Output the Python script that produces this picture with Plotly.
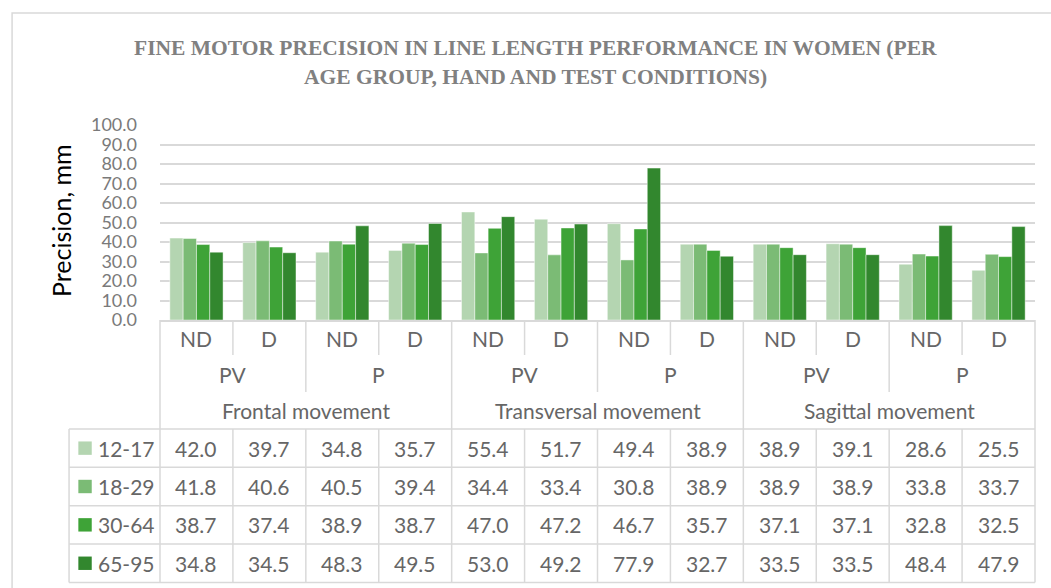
import plotly.graph_objects as go

# ---------------- data ----------------
movements = ["Frontal movement", "Transversal movement", "Sagittal movement"]
conditions = ["PV", "P"]
hands = ["ND", "D"]
age_groups = ["12-17", "18-29", "30-64", "65-95"]
v_12_17 = [42.0, 39.7, 34.8, 35.7, 55.4, 51.7, 49.4, 38.9, 38.9, 39.1, 28.6, 25.5]
v_18_29 = [41.8, 40.6, 40.5, 39.4, 34.4, 33.4, 30.8, 38.9, 38.9, 38.9, 33.8, 33.7]
v_30_64 = [38.7, 37.4, 38.9, 38.7, 47.0, 47.2, 46.7, 35.7, 37.1, 37.1, 32.8, 32.5]
v_65_95 = [34.8, 34.5, 48.3, 49.5, 53.0, 49.2, 77.9, 32.7, 33.5, 33.5, 48.4, 47.9]
series = [v_12_17, v_18_29, v_30_64, v_65_95]
colors = ["#b4d5b1", "#7bbb75", "#3ea337", "#32872e"]
y_ticks = [0, 10, 20, 30, 40, 50, 60, 70, 80, 90, 100]

title_text = ("FINE MOTOR PRECISION IN LINE LENGTH PERFORMANCE IN WOMEN (PER<br>"
              "AGE GROUP, HAND AND TEST CONDITIONS)")
y_title = "Precision, mm"

# ---------------- layout geometry (pixels) ----------------
W, H = 1051, 588
L, R = 160, 1035.5
T, B = 125, 320
PW, PH = R - L, B - T

def pxx(x):
    return (x - L) / PW

def pxy(y):
    return (B - y) / PH

n = len(v_12_17)
x_idx = list(range(n))
FONT = "Lato"
GRAY = "#666666"
LINE = "#d9d9d9"

fig = go.Figure()
for name, vals, col in zip(age_groups, series, colors):
    fig.add_trace(go.Bar(x=x_idx, y=vals, name=name, marker_color=col,
                         marker_line=dict(color="rgba(255,255,255,0.45)", width=1),
                         showlegend=False))

annotations = []
shapes = []

def txt(text, xref, x, y, size, color=GRAY, family=FONT, xanchor="center", **kw):
    d = dict(text=text, xref=xref, yref="paper", x=x, y=y, showarrow=False,
             xanchor=xanchor, yanchor="middle", font=dict(family=family, size=size, color=color))
    d.update(kw)
    annotations.append(d)

# title
for k, ln in enumerate(title_text.split("<br>")):
    txt(f"<b>{ln}</b>", "paper", pxx(536), pxy(48 + 29 * k), 21.5, color="#808080",
        family="Liberation Serif")
# y title
txt(y_title, "paper", pxx(61), pxy(221), 25, color="#000000", textangle=-90)

# category labels (hand / condition / movement)
for i in range(n):
    txt(hands[i % 2], "x", i, pxy(338), 21)
for j in range(n // 2):
    txt(conditions[j % 2], "x", 2 * j + 0.5, pxy(374), 21)
for m, mv in enumerate(movements):
    txt(mv, "x", 4 * m + 1.5, pxy(410), 21)

# data table
row_tops = [429, 467.3, 505.7, 544, 582.5]
for r, (name, vals, col) in enumerate(zip(age_groups, series, colors)):
    yc = (row_tops[r] + row_tops[r + 1]) / 2
    for i, v in enumerate(vals):
        txt(f"{v:.1f}", "x", i, pxy(yc), 21)
    txt(name, "paper", pxx(96), pxy(yc), 21, xanchor="left")
    shapes.append(dict(type="rect", xref="paper", yref="paper", x0=pxx(78.3), x1=pxx(91.7),
                       y0=pxy(yc - 6.7), y1=pxy(yc + 6.7), fillcolor=col, line=dict(width=0)))

# table horizontal lines
for yt in row_tops:
    shapes.append(dict(type="line", xref="paper", yref="paper", x0=pxx(69), x1=pxx(R),
                       y0=pxy(yt), y1=pxy(yt), line=dict(color=LINE, width=1.5)))
# left border of legend column
shapes.append(dict(type="line", xref="paper", yref="paper", x0=pxx(69), x1=pxx(69),
                   y0=pxy(row_tops[0]), y1=pxy(row_tops[-1]), line=dict(color=LINE, width=1.5)))
# vertical separators at category boundaries
for b in range(n + 1):
    xd = b / n
    if b % 4 == 0:
        segs = [(B, row_tops[-1])]
    elif b % 2 == 0:
        segs = [(B, 392), (row_tops[0], row_tops[-1])]
    else:
        segs = [(B, 355), (row_tops[0], row_tops[-1])]
    for y0, y1 in segs:
        shapes.append(dict(type="line", xref="x domain", yref="paper", x0=xd, x1=xd,
                           y0=pxy(y0), y1=pxy(y1), line=dict(color=LINE, width=1.5)))

# chart border
shapes.append(dict(type="rect", xref="paper", yref="paper", x0=pxx(12), x1=pxx(1070),
                   y0=pxy(13), y1=pxy(600), line=dict(color=LINE, width=1.5),
                   fillcolor="rgba(0,0,0,0)", layer="below"))

fig.update_layout(
    width=W, height=H,
    margin=dict(l=L, r=W - R, t=T, b=H - B, pad=0),
    paper_bgcolor="white", plot_bgcolor="white",
    barmode="group", bargap=0.27, bargroupgap=0,
    xaxis=dict(range=[-0.5, n - 0.5], showticklabels=False, showgrid=False, zeroline=False,
               showline=True, linecolor=LINE, linewidth=1.5, ticks=""),
    yaxis=dict(range=[0, 100], tickvals=y_ticks, tickformat=".1f", showgrid=True, gridcolor=LINE,
               gridwidth=1.5, zeroline=False, showline=False, ticks="", ticklabelstandoff=22,
               tickfont=dict(family=FONT, size=18, color="#7a7a7a")),
    annotations=annotations, shapes=shapes,
    showlegend=False,
)

fig.write_html("out.html", config={"displayModeBar": False},
               post_script="document.body.style.margin='0';document.body.style.overflow='hidden';")
